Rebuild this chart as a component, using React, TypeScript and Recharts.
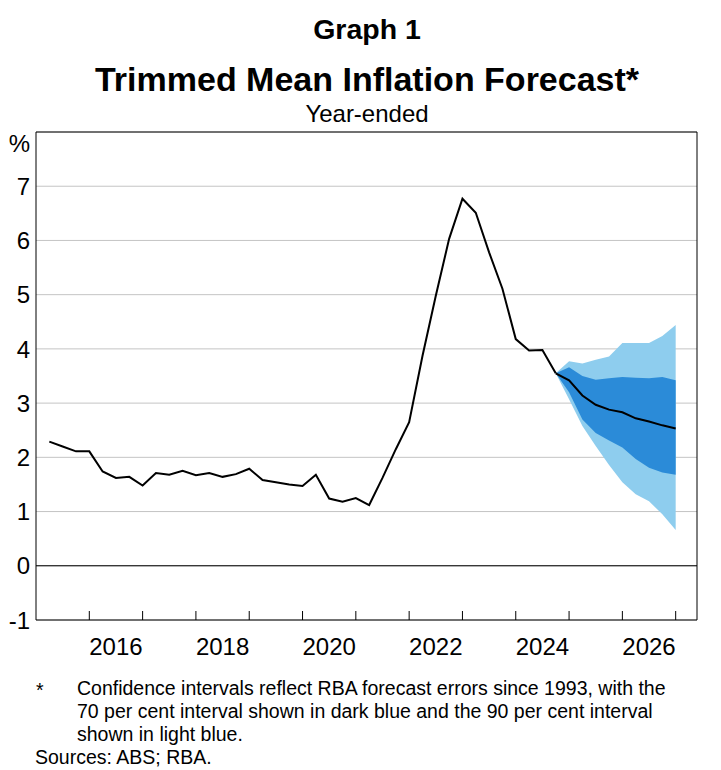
import React from 'react';
import {
  ComposedChart,
  Line,
  Area,
  XAxis,
  YAxis,
  CartesianGrid,
  ReferenceLine,
} from 'recharts';

// Quarter-end positions (decimal years): Mar 2015 ... Dec 2026
const quarters = [
  2015.25, 2015.5, 2015.75, 2016.0,
  2016.25, 2016.5, 2016.75, 2017.0,
  2017.25, 2017.5, 2017.75, 2018.0,
  2018.25, 2018.5, 2018.75, 2019.0,
  2019.25, 2019.5, 2019.75, 2020.0,
  2020.25, 2020.5, 2020.75, 2021.0,
  2021.25, 2021.5, 2021.75, 2022.0,
  2022.25, 2022.5, 2022.75, 2023.0,
  2023.25, 2023.5, 2023.75, 2024.0,
  2024.25, 2024.5, 2024.75, 2025.0,
  2025.25, 2025.5, 2025.75, 2026.0,
  2026.25, 2026.5, 2026.75, 2027.0,
];

// Trimmed mean, year-ended %, Mar 2015 – Sep 2024
const actual = [
  2.29, 2.2, 2.11, 2.11,
  1.74, 1.62, 1.64, 1.48,
  1.71, 1.68, 1.75, 1.67,
  1.71, 1.64, 1.69, 1.79,
  1.58, 1.54, 1.5, 1.47,
  1.68, 1.24, 1.18, 1.25,
  1.12, 1.62, 2.15, 2.65,
  3.87, 4.98, 6.03, 6.77,
  6.51, 5.78, 5.11, 4.18,
  3.97, 3.98, 3.55,
];

// Forecast, Sep 2024 – Dec 2026
const forecast = [3.55, 3.42, 3.14, 2.97, 2.88, 2.83, 2.72, 2.66, 2.59, 2.53];
const dark70Low = [3.55, 3.2, 2.7, 2.45, 2.31, 2.18, 1.97, 1.81, 1.72, 1.68];
const dark70High = [3.55, 3.66, 3.5, 3.43, 3.46, 3.48, 3.47, 3.46, 3.48, 3.42];
const light90Low = [3.55, 3.07, 2.58, 2.21, 1.86, 1.54, 1.32, 1.19, 0.95, 0.66];
const light90High = [3.55, 3.77, 3.73, 3.8, 3.86, 4.11, 4.11, 4.11, 4.24, 4.44];

// Yearly tick marks; labels on even years only
const yearTicks = [2016, 2017, 2018, 2019, 2020, 2021, 2022, 2023, 2024, 2025, 2026, 2027];
const yearLabels = [2016, 2018, 2020, 2022, 2024, 2026];
const yTicks = [-1, 0, 1, 2, 3, 4, 5, 6, 7, 8];

const FORECAST_START = actual.length - 1;

const rows = quarters.map((q, i) => {
  const f = i - FORECAST_START;
  const inF = f >= 0 && f < forecast.length;
  return {
    x: q,
    actual: i < actual.length ? actual[i] : null,
    forecast: inF ? forecast[f] : null,
    light: inF ? [light90Low[f], light90High[f]] : null,
    dark: inF ? [dark70Low[f], dark70High[f]] : null,
  };
});

const FONT = "'Liberation Sans', Arial, Helvetica, sans-serif";
const X_MIN = 2015;
const X_MAX = 2027.4;
const PLOT_W = 661;
const HALF_YEAR_PX = PLOT_W / (X_MAX - X_MIN) / 2;

const XTick = (props: any) => {
  const { x, y, payload } = props;
  const yr = payload.value;
  return (
    <g>
      <line x1={x} x2={x} y1={y} y2={y - 9} stroke="#000" strokeWidth={1} />
      {yearLabels.includes(yr) && (
        <text
          x={x + HALF_YEAR_PX}
          y={y + 35}
          textAnchor="middle"
          fontFamily={FONT}
          fontSize={24}
          fill="#000"
        >
          {yr}
        </text>
      )}
    </g>
  );
};

const YTickLeft = (props: any) => {
  const { x, y, payload } = props;
  const v = payload.value;
  return (
    <text
      x={x}
      y={v === 8 ? y + 11 : y}
      dy="0.36em"
      textAnchor="end"
      fontFamily={FONT}
      fontSize={24}
      fill="#000"
    >
      {v === 8 ? '%' : v}
    </text>
  );
};

const YTickRight = (props: any) => {
  const { x, y, payload } = props;
  const v = payload.value;
  return (
    <text
      x={x}
      y={v === 8 ? y + 11 : y}
      dy="0.36em"
      textAnchor="start"
      fontFamily={FONT}
      fontSize={24}
      fill="#000"
    >
      {v === 8 ? '%' : v}
    </text>
  );
};

export default function App() {
  return (
    <div
      style={{
        position: 'absolute',
        left: 0,
        top: 0,
        width: 721,
        height: 770,
        background: '#fff',
        fontFamily: FONT,
      }}
    >
      <div style={{ position: 'absolute', left: 0, top: 0 }}>
        <ComposedChart
          width={721}
          height={770}
          data={rows}
          margin={{ top: 132, right: 0, bottom: 110, left: 0 }}
        >
          <CartesianGrid
            yAxisId="left"
            horizontal={true}
            vertical={false}
            stroke="#c4c4c4"
            strokeWidth={1}
          />
          <XAxis
            type="number"
            dataKey="x"
            domain={[X_MIN, X_MAX]}
            ticks={yearTicks}
            allowDataOverflow
            interval={0}
            height={40}
            tickSize={0}
            tickMargin={0}
            tickLine={false}
            axisLine={{ stroke: '#000', strokeWidth: 1 }}
            tick={<XTick />}
          />
          <YAxis
            yAxisId="left"
            orientation="left"
            type="number"
            domain={[-1, 8]}
            ticks={yTicks}
            interval={0}
            width={36}
            tickSize={0}
            tickMargin={6}
            tickLine={false}
            axisLine={{ stroke: '#000', strokeWidth: 1 }}
            tick={<YTickLeft />}
          />
          <YAxis
            yAxisId="right"
            orientation="right"
            type="number"
            domain={[-1, 8]}
            ticks={yTicks}
            interval={0}
            width={24}
            tickSize={0}
            tickMargin={4}
            tickLine={false}
            axisLine={{ stroke: '#000', strokeWidth: 1 }}
            tick={<YTickRight />}
          />
          <Area
            yAxisId="left"
            type="linear"
            dataKey="light"
            stroke="none"
            fill="#8ecdee"
            fillOpacity={1}
            isAnimationActive={false}
            connectNulls={false}
            dot={false}
            activeDot={false}
          />
          <Area
            yAxisId="left"
            type="linear"
            dataKey="dark"
            stroke="none"
            fill="#2b8bd8"
            fillOpacity={1}
            isAnimationActive={false}
            connectNulls={false}
            dot={false}
            activeDot={false}
          />
          <ReferenceLine yAxisId="left" y={0} stroke="#000" strokeWidth={1} />
          <ReferenceLine yAxisId="left" y={8} stroke="#000" strokeWidth={1} />
          <Line
            yAxisId="left"
            type="linear"
            dataKey="actual"
            stroke="#000"
            strokeWidth={2}
            dot={false}
            activeDot={false}
            isAnimationActive={false}
          />
          <Line
            yAxisId="left"
            type="linear"
            dataKey="forecast"
            stroke="#000"
            strokeWidth={2}
            dot={false}
            activeDot={false}
            isAnimationActive={false}
          />
        </ComposedChart>
      </div>
      <svg
        width={721}
        height={770}
        style={{ position: 'absolute', left: 0, top: 0, pointerEvents: 'none' }}
      >
        <text x={367} y={39} textAnchor="middle" fontFamily={FONT} fontWeight="bold" fontSize={28.5} fill="#000">
          Graph 1
        </text>
        <text x={367} y={91} textAnchor="middle" fontFamily={FONT} fontWeight="bold" fontSize={34} fill="#000">
          Trimmed Mean Inflation Forecast*
        </text>
        <text x={367} y={122} textAnchor="middle" fontFamily={FONT} fontSize={24} fill="#000">
          Year-ended
        </text>
        <text x={36} y={697} fontFamily={FONT} fontSize={19.5} fill="#000">
          *
        </text>
        <text x={77} y={695} fontFamily={FONT} fontSize={19.5} fill="#000">
          Confidence intervals reflect RBA forecast errors since 1993, with the
        </text>
        <text x={77} y={718} fontFamily={FONT} fontSize={19.5} fill="#000">
          70 per cent interval shown in dark blue and the 90 per cent interval
        </text>
        <text x={77} y={741} fontFamily={FONT} fontSize={19.5} fill="#000">
          shown in light blue.
        </text>
        <text x={35} y={764} fontFamily={FONT} fontSize={19.5} fill="#000">
          Sources: ABS; RBA.
        </text>
      </svg>
    </div>
  );
}
